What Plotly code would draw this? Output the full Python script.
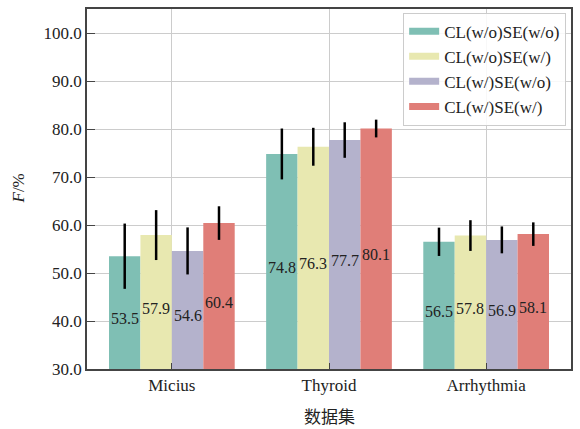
import plotly.graph_objects as go

categories = ["Micius", "Thyroid", "Arrhythmia"]
series_names = ["CL(w/o)SE(w/o)", "CL(w/o)SE(w/)", "CL(w/)SE(w/o)", "CL(w/)SE(w/)"]
values = [
    [53.5, 74.8, 56.5],
    [57.9, 76.3, 57.8],
    [54.6, 77.7, 56.9],
    [60.4, 80.1, 58.1],
]
errors = [
    [6.8, 5.3, 2.95],
    [5.2, 3.95, 3.2],
    [4.9, 3.7, 2.8],
    [3.5, 1.85, 2.45],
]
colors = ["#7fbfb4", "#e8e8b0", "#b4b2cc", "#e07e78"]
y_ticks = [30, 40, 50, 60, 70, 80, 90, 100]

SERIF = "Liberation Serif, Times New Roman, serif"

fig = go.Figure()
for name, vals, errs, col in zip(series_names, values, errors, colors):
    fig.add_trace(go.Bar(
        x=categories, y=vals, name=name, marker=dict(color=col, line=dict(width=0)),
        error_y=dict(type="data", array=errs, visible=True, color="black", thickness=2.5, width=0),
        showlegend=False,
    ))
    fig.add_trace(go.Scatter(
        x=[None], y=[None], mode="lines", name=name,
        line=dict(color=col, width=7),
    ))

# value labels inside bars (middle of visible part of the bar)
n = len(series_names)
for i, vals in enumerate(values):
    for j, v in enumerate(vals):
        fig.add_annotation(
            x=j, y=(y_ticks[0] + v) / 2, xref="x", yref="y",
            xshift=(i - (n - 1) / 2) * 0.2 * 157,
            yshift=-6,
            text=f"{v:.1f}", showarrow=False,
            font=dict(family=SERIF, size=16, color="#222"),
        )

# axis titles
fig.add_annotation(
    x=0.5, y=0, xref="paper", yref="paper", xanchor="center", yanchor="middle",
    yshift=-46, text="数据集", showarrow=False,
    font=dict(family="Noto Sans CJK SC", size=17, color="#222"),
)
fig.add_annotation(
    x=0, y=0.5, xref="paper", yref="paper", xanchor="right", yanchor="middle",
    xshift=-58, textangle=-90, text="<i>F</i>/%", showarrow=False,
    font=dict(family=SERIF, size=17, color="#222"),
)

fig.update_layout(
    width=580, height=429,
    margin=dict(l=87, r=9, t=9, b=60),
    paper_bgcolor="white", plot_bgcolor="white",
    barmode="group", bargap=0.2, bargroupgap=0,
    font=dict(family=SERIF, size=17, color="#222"),
    legend=dict(
        x=0.99, y=0.99, xanchor="right", yanchor="top",
        bgcolor="rgba(255,255,255,0.85)", bordercolor="#cccccc", borderwidth=1,
        font=dict(family=SERIF, size=17, color="#222"),
        itemwidth=30, tracegroupgap=0,
    ),
    showlegend=True,
)
fig.update_xaxes(
    range=[-0.54, 2.54], showgrid=True, gridcolor="#cccccc", gridwidth=1,
    showline=True, linecolor="#444", linewidth=1.5, mirror=True,
    ticks="inside", ticklen=6, tickcolor="#444", tickwidth=1.2,
    tickfont=dict(family=SERIF, size=17, color="#222"),
    automargin=False,
)
fig.update_yaxes(
    range=[30, 105], tickvals=y_ticks, tickformat=".1f",
    showgrid=True, gridcolor="#cccccc", gridwidth=1,
    showline=True, linecolor="#444", linewidth=1.5, mirror=True,
    ticks="inside", ticklen=8, tickcolor="#444", tickwidth=1.2,
    tickfont=dict(family=SERIF, size=17, color="#222"),
    zeroline=False, automargin=False,
)

fig.write_html("out.html", post_script="document.body.style.margin='0';",
               config={"displayModeBar": False})
